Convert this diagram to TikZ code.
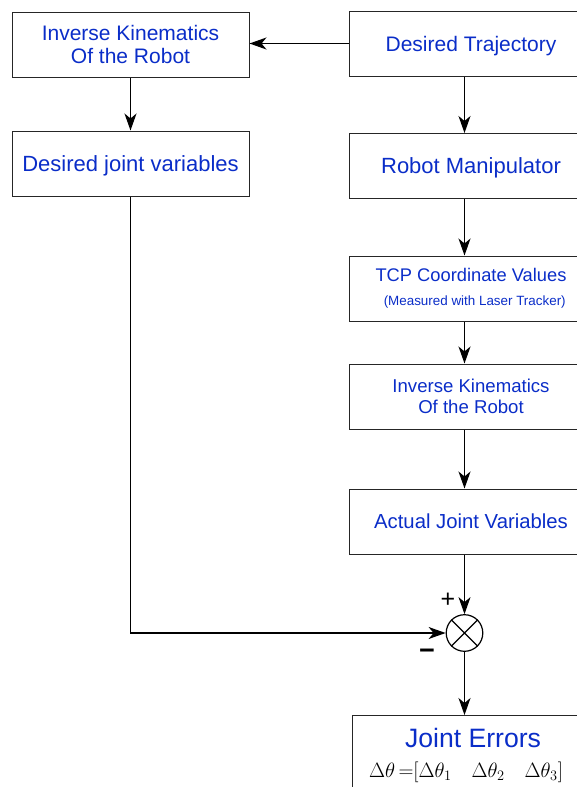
\documentclass[tikz,border=0pt]{standalone}
\usepackage{amsmath,amssymb}
\usepackage{fontspec}
\setmainfont{Liberation Sans}
\usetikzlibrary{arrows.meta}

\definecolor{txtblue}{RGB}{10,45,200}
\tikzset{
  blk/.style={draw=black!85, line width=1pt, minimum width=244pt, minimum height=65pt,
    text=txtblue, align=center, inner sep=0pt},
  lblk/.style={blk, minimum width=237pt},
  oneline/.style={text depth=0pt},
  flow/.style={-{Stealth[length=17pt,width=12pt,inset=5pt]}, line width=1.1pt},
}

\begin{document}
\begin{tikzpicture}[x=1pt,y=-1pt]
    \useasboundingbox (0,0) rectangle (577,787);

    % left column
    \node[lblk, font=\fontsize{21}{23}\selectfont] (ikin) at (130.5,44.5) {Inverse Kinematics\\Of the Robot};
    \node[lblk, oneline, font=\fontsize{22}{24}\selectfont] (desjv) at (130.5,163.5) {Desired joint variables};

    % right column
    \node[blk, oneline, font=\fontsize{21}{23}\selectfont] (traj) at (471,43.5) {Desired Trajectory};
    \node[blk, oneline, font=\fontsize{22}{24}\selectfont] (robot) at (471,166) {Robot Manipulator};
    \node[blk, font=\fontsize{18.3}{22}\selectfont] (tcp) at (471,288.5)
      {TCP Coordinate Values\\[2pt]{\fontsize{13.4}{15}\selectfont\ \ (Measured with Laser Tracker)}};
    \node[blk, font=\fontsize{18.6}{21}\selectfont] (ikact) at (471,396.5) {Inverse Kinematics\\Of the Robot};
    \node[blk, oneline, font=\fontsize{20.3}{23}\selectfont] (actjv) at (471,521.5) {Actual Joint Variables};

    % summing junction
    \node[circle, draw, line width=1.2pt, minimum size=36.6pt, inner sep=0pt] (sum) at (464.5,633) {};
    \draw[line width=1.1pt] (sum.north west) -- (sum.south east) (sum.north east) -- (sum.south west);
    \node[font=\fontsize{25}{25}\selectfont] (plus) at (448,600) {+};
    \node[font=\bfseries\fontsize{27}{27}\selectfont] (minus) at (427,654) {−};

    % output
    \node[blk, anchor=north, minimum height=100pt] (errs) at (474,715) {};
    \node[text=txtblue, font=\fontsize{26.6}{28}\selectfont] (errtxt) at (473,738) {Joint Errors};
    \node[font=\fontsize{20}{22}\selectfont] (erreq) at (466,772)
      {$\Delta\theta\,{=}[\Delta\theta_1\quad\Delta\theta_2\quad\Delta\theta_3]$};

    \draw[flow] (traj.west) -- (traj.west -| ikin.east);
    \draw[flow] (ikin) -- (desjv);
    \draw[flow] (traj.south -| sum) -- (robot.north -| sum);
    \draw[flow] (robot.south -| sum) -- (tcp.north -| sum);
    \draw[flow] (tcp.south -| sum) -- (ikact.north -| sum);
    \draw[flow] (ikact.south -| sum) -- (actjv.north -| sum);
    \draw[flow] (actjv.south -| sum) -- (sum);
    \draw[flow] (desjv.south) |- (sum.west);
    \draw[flow] (sum) -- (sum |- errs.north);
\end{tikzpicture}
\end{document}
